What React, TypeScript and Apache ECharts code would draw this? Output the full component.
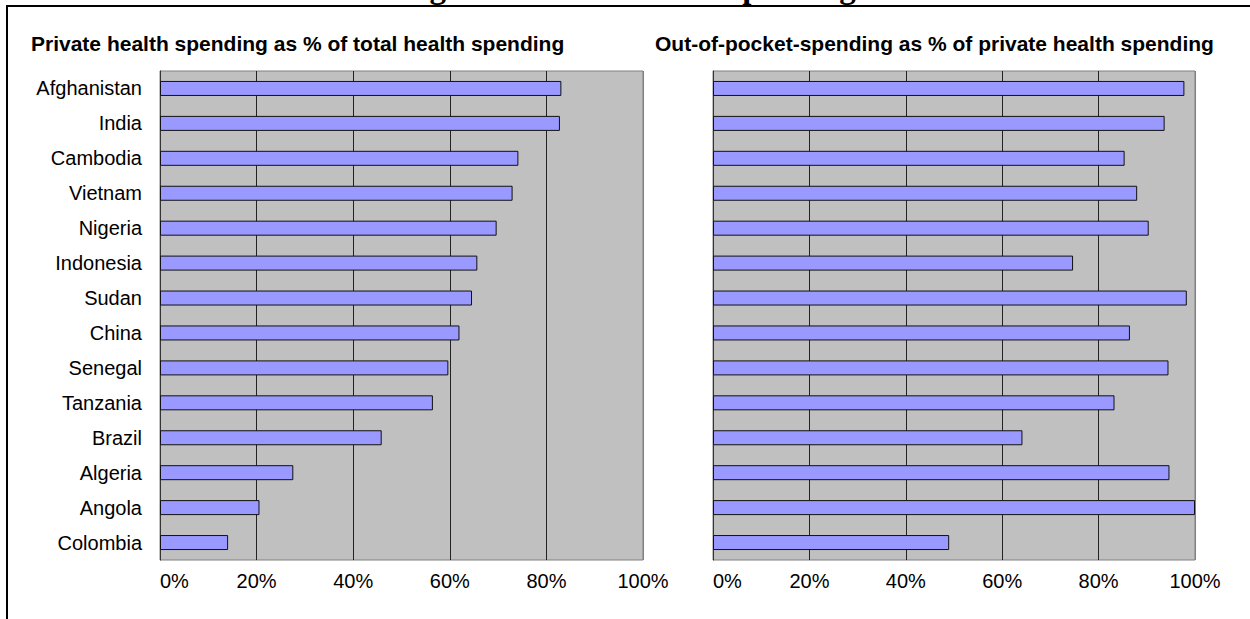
import React, { useEffect, useRef } from "react";
import * as echarts from "echarts";

const categories = [
  "Afghanistan", "India", "Cambodia", "Vietnam", "Nigeria", "Indonesia", "Sudan",
  "China", "Senegal", "Tanzania", "Brazil", "Algeria", "Angola", "Colombia",
];
const privateShareOfTotal = [83.1, 82.8, 74.2, 73.0, 69.7, 65.7, 64.6, 62.0, 59.7, 56.5, 45.9, 27.6, 20.6, 14.1];
const outOfPocketShareOfPrivate = [97.8, 93.7, 85.4, 88.0, 90.4, 74.7, 98.3, 86.5, 94.5, 83.3, 64.2, 94.7, 100, 49.0];
const xTickValues = [0, 20, 40, 60, 80, 100];
const mainTitle = "Private Financing and Out-of-Pocket Spending";
const leftTitle = "Private health spending as % of total health spending";
const rightTitle = "Out-of-pocket-spending as % of private health spending";

const SANS = "'Liberation Sans', Arial, sans-serif";
const SERIF = "'Liberation Serif', 'Times New Roman', serif";

export default function App() {
  const ref = useRef<HTMLDivElement>(null);

  useEffect(() => {
    if (!ref.current) return;
    document.body.style.margin = "0";
    const chart = echarts.init(ref.current, null, { renderer: "svg" });

    const grids = [
      { left: 160, top: 71, width: 483, height: 489 },
      { left: 713, top: 71, width: 482, height: 489 },
    ].map((g) => ({
      ...g,
      show: true,
      backgroundColor: "#c0c0c0",
      borderColor: "#808080",
      borderWidth: 1,
      containLabel: false,
    }));

    const makeX = (gridIndex: number) => ({
      type: "value" as const,
      gridIndex,
      min: xTickValues[0],
      max: xTickValues[xTickValues.length - 1],
      interval: xTickValues[1] - xTickValues[0],
      axisLine: { show: false },
      axisTick: { show: false },
      axisLabel: {
        formatter: "{value}%",
        fontSize: 20,
        fontFamily: SANS,
        color: "#000",
        margin: 11,
        alignMinLabel: "left",
      },
      splitLine: {
        show: true,
        lineStyle: { color: ["#222", "#222", "#222", "#222", "#222", "#808080"], width: 1 },
      },
    });

    const makeY = (gridIndex: number, showLabels: boolean) => ({
      type: "category" as const,
      gridIndex,
      data: categories,
      inverse: true,
      axisLine: { show: true, lineStyle: { color: "#333", width: 1 } },
      axisTick: { show: false },
      splitLine: { show: false },
      axisLabel: {
        show: showLabels,
        fontSize: 20,
        fontFamily: SANS,
        color: "#000",
        margin: 18,
      },
    });

    const barStyle = {
      color: "#9999ff",
      borderColor: "#111",
      borderWidth: 1,
    };

    chart.setOption({
      animation: false,
      backgroundColor: "#ffffff",
      grid: grids,
      xAxis: [makeX(0), makeX(1)],
      yAxis: [makeY(0, true), makeY(1, false)],
      series: [
        {
          type: "bar",
          name: leftTitle,
          xAxisIndex: 0,
          yAxisIndex: 0,
          data: privateShareOfTotal,
          barWidth: 15,
          itemStyle: barStyle,
        },
        {
          type: "bar",
          name: rightTitle,
          xAxisIndex: 1,
          yAxisIndex: 1,
          data: outOfPocketShareOfPrivate,
          barWidth: 15,
          itemStyle: barStyle,
        },
      ],
      graphic: [
        {
          type: "rect",
          z: 0,
          shape: { x: 7, y: 6, width: 1400, height: 800 },
          style: { fill: "none", stroke: "#000", lineWidth: 2 },
        },
        {
          type: "text",
          x: 194,
          y: -13,
          style: {
            text: mainTitle,
            font: `bold 33px ${SERIF}`,
            fill: "#000",
            textAlign: "left",
            textVerticalAlign: "middle",
          },
        },
        {
          type: "text",
          x: 31,
          y: 43,
          style: {
            text: leftTitle,
            font: `bold 21px ${SANS}`,
            fill: "#000",
            textAlign: "left",
            textVerticalAlign: "middle",
          },
        },
        {
          type: "text",
          x: 655,
          y: 43,
          style: {
            text: rightTitle,
            font: `bold 21px ${SANS}`,
            fill: "#000",
            textAlign: "left",
            textVerticalAlign: "middle",
          },
        },
      ],
    });

    return () => chart.dispose();
  }, []);

  return (
    <div
      ref={ref}
      style={{ position: "absolute", left: 0, top: 0, width: 1250, height: 619 }}
    />
  );
}
